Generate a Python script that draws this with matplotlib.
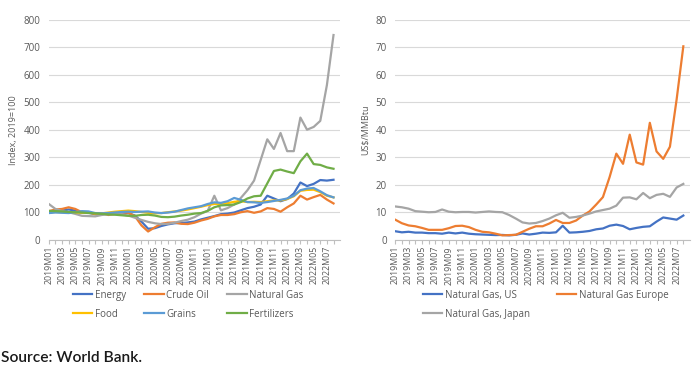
import matplotlib
matplotlib.use("Agg")
import matplotlib.pyplot as plt
import numpy as np

plt.rcParams['font.family'] = ['Open Sans', 'DejaVu Sans']

months = [f"{y}M{m:02d}" for y in range(2019, 2023) for m in range(1, 13)][:44]

energy = [98, 103, 106, 110, 106, 98, 98, 93, 95, 94, 96, 99,
          97, 88, 66, 40, 42, 50, 56, 60, 61, 63, 66, 74,
          80, 86, 93, 95, 99, 107, 115, 120, 128, 160, 150, 140,
          148, 168, 208, 195, 203, 217, 215, 218]
crude_oil = [104, 110, 112, 118, 112, 100, 100, 93, 96, 90, 94, 100,
             98, 86, 52, 30, 45, 58, 62, 63, 58, 57, 62, 70,
             76, 85, 90, 90, 93, 100, 104, 98, 103, 115, 112, 102,
             118, 132, 160, 146, 155, 163, 146, 132]
natural_gas = [130, 112, 104, 100, 94, 87, 86, 85, 90, 93, 93, 92,
               88, 80, 72, 65, 60, 57, 58, 62, 68, 73, 82, 95,
               105, 160, 107, 115, 128, 152, 180, 215, 290, 365, 330, 388,
               322, 322, 444, 400, 410, 432, 562, 744]
food = [100, 101, 100, 99, 99, 98, 98, 96, 96, 99, 102, 104,
        106, 104, 101, 98, 96, 97, 100, 103, 106, 110, 115, 120,
        126, 130, 131, 133, 138, 140, 137, 138, 137, 140, 143, 143,
        148, 158, 178, 181, 182, 173, 160, 154]
grains = [97, 99, 98, 97, 100, 104, 103, 97, 96, 97, 99, 101,
          102, 101, 102, 103, 99, 97, 99, 102, 108, 114, 118, 122,
          130, 136, 134, 140, 152, 145, 137, 136, 134, 137, 141, 145,
          150, 160, 180, 186, 188, 176, 162, 154]
fertilizers = [105, 104, 103, 101, 100, 99, 97, 96, 94, 92, 91, 89,
               87, 87, 90, 91, 88, 83, 82, 84, 88, 91, 95, 97,
               105, 118, 125, 126, 128, 137, 150, 158, 160, 205, 250, 255,
               248, 242, 285, 313, 275, 272, 263, 258]

gas_us = [3.1, 2.7, 2.9, 2.6, 2.6, 2.4, 2.4, 2.2, 2.6, 2.3, 2.6, 2.2,
          2.0, 1.9, 1.8, 1.7, 1.75, 1.6, 1.8, 2.3, 1.9, 2.2, 2.6, 2.5,
          2.7, 5.1, 2.6, 2.7, 2.9, 3.2, 3.8, 4.1, 5.1, 5.5, 5.0, 3.8,
          4.3, 4.7, 4.9, 6.6, 8.1, 7.7, 7.3, 8.8]
gas_europe = [7.3, 6.0, 5.2, 4.9, 4.3, 3.6, 3.6, 3.6, 4.2, 5.0, 5.1, 4.6,
              3.6, 2.9, 2.7, 2.2, 1.6, 1.7, 1.8, 2.9, 4.0, 4.9, 4.9, 5.9,
              7.2, 6.1, 6.1, 7.0, 8.8, 10.3, 12.8, 15.5, 22.8, 31.3, 27.6, 38.2,
              28.1, 27.3, 42.5, 32.1, 29.4, 33.8, 51.0, 70.3]
gas_japan = [12.1, 11.8, 11.3, 10.4, 10.2, 10.0, 10.1, 11.0, 10.2, 10.0, 10.1, 10.1,
             9.9, 10.1, 10.3, 10.1, 10.0, 9.0, 7.7, 6.3, 5.9, 6.1, 6.8, 7.7,
             8.9, 9.8, 8.0, 8.3, 8.8, 9.5, 10.3, 10.8, 11.3, 12.4, 15.3, 15.4,
             14.7, 17.0, 15.1, 16.3, 16.7, 15.6, 19.0, 20.3]

left_series = [("Energy", energy, "#4472C4"), ("Crude Oil", crude_oil, "#ED7D31"),
               ("Natural Gas", natural_gas, "#A5A5A5"), ("Food", food, "#FFC000"),
               ("Grains", grains, "#5B9BD5"), ("Fertilizers", fertilizers, "#70AD47")]
right_series = [("Natural Gas, US", gas_us, "#4472C4"),
                ("Natural Gas Europe", gas_europe, "#ED7D31"),
                ("Natural Gas, Japan", gas_japan, "#A5A5A5")]

fig = plt.figure(figsize=(6.97, 3.70), dpi=100)
ax1 = fig.add_axes([0.070, 0.352, 0.418, 0.595])
ax2 = fig.add_axes([0.567, 0.352, 0.423, 0.595])

x = np.arange(len(months))
tick_col = "#595959"

def style(ax, ymax, ystep, ylabel):
    ax.set_xlim(0, len(months))
    ax.set_ylim(0, ymax)
    ax.set_yticks(np.arange(0, ymax + 1, ystep))
    ax.yaxis.grid(True, color="#D9D9D9", lw=0.8)
    ax.set_axisbelow(True)
    for s in ["top", "right", "left"]:
        ax.spines[s].set_visible(False)
    ax.spines["bottom"].set_color("#BFBFBF")
    ax.spines["bottom"].set_linewidth(0.8)
    ax.set_xticks(x)
    ax.set_xticklabels([m if i % 2 == 0 else "" for i, m in enumerate(months)],
                       rotation=90, fontsize=6.3, color=tick_col)
    ax.tick_params(axis="x", length=3, color="#BFBFBF", width=0.8, pad=1.5)
    ax.tick_params(axis="y", length=0, labelsize=7, labelcolor=tick_col, pad=6)
    ax.set_ylabel(ylabel, fontsize=6.5, color=tick_col, labelpad=4)

h1 = {}
for name, vals, col in left_series:
    h1[name], = ax1.plot(x, vals, color=col, lw=1.6, label=name)
style(ax1, 800, 100, "Index, 2019=100")
order1 = ["Energy", "Food", "Crude Oil", "Grains", "Natural Gas", "Fertilizers"]
fig.legend([h1[n] for n in order1], order1, loc="upper left",
           bbox_to_anchor=(0.099, 0.228), bbox_transform=fig.transFigure,
           ncol=3, frameon=False, fontsize=7, handlelength=2.0,
           columnspacing=1.9, labelspacing=0.85, handletextpad=0.25,
           labelcolor=tick_col, borderaxespad=0)

h2 = {}
for name, vals, col in right_series:
    h2[name], = ax2.plot(x, vals, color=col, lw=1.6, label=name)
style(ax2, 80, 10, "US$/MMBtu")
order2 = ["Natural Gas, US", "Natural Gas, Japan", "Natural Gas Europe"]
fig.legend([h2[n] for n in order2], order2, loc="upper left",
           bbox_to_anchor=(0.601, 0.228), bbox_transform=fig.transFigure,
           ncol=2, frameon=False, fontsize=7, handlelength=2.0,
           columnspacing=2.8, labelspacing=0.85, handletextpad=0.25,
           labelcolor=tick_col, borderaxespad=0)

fig.text(0.002, 0.022, "Source: World Bank.", fontsize=11.2, fontweight="semibold",
         color="#1a1a1a", family=["Lato", "DejaVu Sans"])

fig.savefig("out.png", dpi=100)
